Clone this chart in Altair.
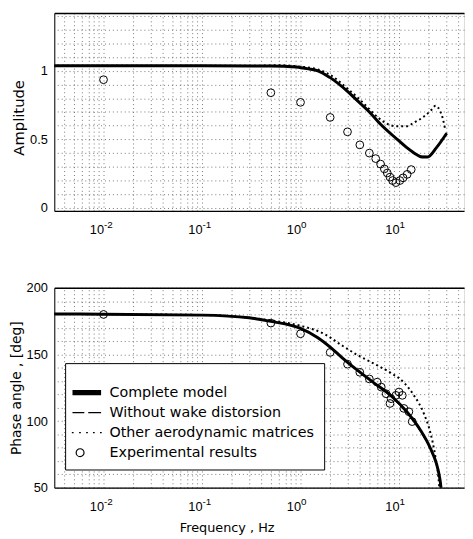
import altair as alt
import pandas as pd

# ---------------- data ----------------
# Amplitude panel
amp_model_f = [0.003, 0.01, 0.1, 0.5, 0.9, 1.2, 1.5, 2.0, 3.0, 4.0, 5.0, 6.5, 9.6, 12, 15, 17, 19.5, 24, 30.5]
amp_model_v = [1.036, 1.036, 1.036, 1.035, 1.027, 1.014, 1.0, 0.95, 0.85, 0.765, 0.70, 0.61, 0.50, 0.44, 0.39, 0.372, 0.372, 0.44, 0.545]

amp_nowake_f = [0.003, 0.01, 0.1, 0.5, 0.9, 1.2, 1.5, 2.0, 3.0, 4.0, 5.0, 6.5, 9.6, 12, 15, 17, 19.5, 24, 30.5]
amp_nowake_v = [1.036, 1.036, 1.036, 1.036, 1.028, 1.016, 1.002, 0.955, 0.855, 0.77, 0.705, 0.615, 0.505, 0.445, 0.395, 0.378, 0.376, 0.445, 0.55]

amp_other_f = [0.003, 0.3, 0.6, 1.0, 1.5, 2.0, 3.0, 4.0, 5.0, 6.0, 7.5, 9.6, 12, 14, 17.8, 21, 23.5, 26, 28, 29.3]
amp_other_v = [1.036, 1.036, 1.04, 1.03, 1.01, 0.97, 0.87, 0.79, 0.72, 0.665, 0.615, 0.595, 0.595, 0.62, 0.665, 0.71, 0.745, 0.71, 0.645, 0.58]

amp_exp_f = [0.01, 0.5, 1.0, 2.0, 3.0, 4.0, 5.0, 5.8, 6.5, 7.1, 7.6, 8.1, 8.6, 9.3, 10.2, 11.0, 12.1, 13.3]
amp_exp_v = [0.935, 0.84, 0.77, 0.66, 0.555, 0.46, 0.40, 0.36, 0.32, 0.285, 0.255, 0.225, 0.20, 0.185, 0.20, 0.22, 0.245, 0.28]

# Phase panel
ph_model_f = [0.003, 0.01, 0.1, 0.3, 0.5, 1.0, 1.5, 2.0, 2.6, 3.8, 5.6, 8.3, 12, 16.4, 20.7, 24, 25.5, 26.5, 27]
ph_model_v = [180.3, 180.2, 179.5, 177.5, 174.8, 169.5, 162.5, 155.5, 148, 138, 128.5, 119, 107, 93.5, 80, 68, 60, 52, 45]

ph_nowake_f = [0.003, 0.01, 0.1, 0.3, 0.5, 1.0, 1.5, 2.0, 2.6, 3.8, 5.6, 8.3, 12, 16.4, 20.7, 24, 25.5, 26.5, 27]
ph_nowake_v = [180.3, 180.2, 179.5, 177.5, 174.8, 169.5, 162.5, 155.5, 148, 138, 128.5, 118, 106, 92.5, 79, 67, 59, 51, 44]

ph_other_f = [0.003, 0.1, 0.5, 1.0, 1.78, 2.6, 3.8, 5.6, 8.3, 11.2, 14.1, 17.8, 20.7, 23.2, 25.1, 25.8]
ph_other_v = [180.3, 179.6, 175.5, 171.5, 165, 157, 149.5, 143, 136, 129, 119.5, 106, 92, 75, 58, 48]

ph_exp_f = [0.01, 0.5, 1.0, 2.0, 3.0, 4.0, 5.0, 6.0, 6.6, 7.4, 8.1, 8.3, 9.3, 10.0, 10.8, 11.2, 12.6, 13.6]
ph_exp_v = [180, 173.5, 165.5, 151.5, 142.7, 136.6, 131.6, 129.2, 125.5, 120.5, 113.2, 116.8, 119.3, 121.8, 119.3, 109.5, 107, 99.6]

legend_labels = ["Complete model", "Without wake distorsion",
                 "Other aerodynamic matrices", "Experimental results"]

major_ticks = [0.01, 0.1, 1, 10]
amp_ticks = [0, 0.5, 1]
ph_ticks = [50, 100, 150, 200]

# ---------------- layout / style ----------------
W = 416
DEC = 100.0
x_lo = 10 ** -2.5
x_hi = 10 ** (-2.5 + W / DEC)
x_grid = [m * 10 ** k for k in range(-3, 3) for m in range(1, 10)
          if x_lo <= m * 10 ** k <= x_hi]
amp_grid = [round(0.1 * i, 1) for i in range(0, 15)]
ph_grid = list(range(50, 201, 10))

TOP_H = 201
BOT_H = 203
GAP = 78

FONT = "DejaVu Sans"

# legend symbol paths (unit = sqrt(symbolSize)/2 px)
legend_paths = [
    "M-1.44,-0.25H2.19M-1.44,-0.125H2.19M-1.44,0H2.19M-1.44,0.125H2.19M-1.44,0.25H2.19",
    "M-1.44,0H0.06M0.56,0H2.19",
    "M-1.52,0H-1.3M-0.6,0H-0.38M0.29,0H0.51M1.16,0H1.38M2.05,0H2.27",
    "M-0.975,0A0.5,0.5 0 1,1 0.025,0A0.5,0.5 0 1,1 -0.975,0Z",
]


def df(f, v):
    return pd.DataFrame({"f": f, "v": v})


def panel(model, nowake, other, exp, ydom, yvals, yfmt, ygrid, ytitle,
          ytitle_size, H, bottom, title_y):
    xs = alt.Scale(type="log", domain=[x_lo, x_hi], nice=False)
    ys = alt.Scale(domain=ydom, nice=False, zero=False)

    x_main_kw = dict(orient="bottom", values=major_ticks, labelExpr="'10'",
                     labelAlign="right", labelPadding=13, labelFontSize=13,
                     grid=False, ticks=False, tickSize=0, domain=True,
                     domainColor="black", domainWidth=1.2,
                     labelOverlap=False, labelFlush=False, labelColor="black")
    if bottom:
        x_main = alt.Axis(title="Frequency , Hz", titleFontSize=13,
                          titlePadding=8, titleX=175, titleFont=FONT,
                          titleFontWeight="normal", titleColor="black",
                          **x_main_kw)
    else:
        x_main = alt.Axis(title=None, **x_main_kw)

    x_sup = alt.Axis(orient="bottom", values=major_ticks, title=None,
                     labelExpr="'' + round(log(datum.value) / LN10)",
                     labelAlign="left", labelPadding=9,
                     labelFontSize=10, grid=False, ticks=False, tickSize=0,
                     domain=False, labelOverlap=False, labelFlush=False,
                     labelColor="black")
    x_gridax = alt.Axis(orient="top", values=x_grid, title=None, labels=False,
                        ticks=False, tickSize=0, domain=True,
                        domainColor="black", domainWidth=1.5, grid=True,
                        gridColor="#555", gridDash=[1, 3], gridWidth=1,
                        gridOpacity=0.8)

    y_main = alt.Axis(orient="left", values=yvals, format=yfmt,
                      title=ytitle, titleFontSize=ytitle_size, titlePadding=3,
                      titleY=title_y, titleFont=FONT,
                      titleFontWeight="normal", titleColor="black",
                      labelPadding=7, labelFontSize=13, grid=False,
                      ticks=False, tickSize=0, domain=True,
                      domainColor="black", domainWidth=1,
                      labelColor="black")
    y_gridax = alt.Axis(orient="right", values=ygrid, title=None,
                        labels=False, ticks=False, tickSize=0, domain=False,
                        grid=True, gridColor="#555", gridDash=[1, 3],
                        gridWidth=1, gridOpacity=0.8)

    dotted = alt.Chart(df(*other)).mark_line(
        color="black", strokeWidth=2, strokeDash=[2, 3], clip=True,
        interpolate="monotone").encode(
        x=alt.X("f:Q", scale=xs, axis=x_sup),
        y=alt.Y("v:Q", scale=ys, axis=None))
    dashed = alt.Chart(df(*nowake)).mark_line(
        color="black", strokeWidth=1, strokeDash=[7, 4], clip=True,
        interpolate="monotone").encode(
        x=alt.X("f:Q", scale=xs, axis=x_gridax),
        y=alt.Y("v:Q", scale=ys, axis=y_gridax))
    circles = alt.Chart(df(*exp)).mark_point(
        shape="circle", filled=False, color="black", size=62,
        strokeWidth=1, opacity=1, clip=True).encode(
        x=alt.X("f:Q", scale=xs, axis=None),
        y=alt.Y("v:Q", scale=ys, axis=None))
    solid = alt.Chart(df(*model)).mark_line(
        color="black", strokeWidth=3, clip=True,
        interpolate="monotone").encode(
        x=alt.X("f:Q", scale=xs, axis=x_main),
        y=alt.Y("v:Q", scale=ys, axis=y_main))

    layers = [dotted, dashed, circles, solid]
    if bottom:
        # legend coordinates are relative to the top panel's plot origin
        leg = alt.Chart(pd.DataFrame({"series": legend_labels})).transform_filter(
            "false").mark_point(filled=False, color="black",
                                strokeWidth=1.2, opacity=1).encode(
            shape=alt.Shape(
                "series:N",
                scale=alt.Scale(domain=legend_labels, range=legend_paths),
                legend=alt.Legend(
                    orient="none", legendX=11,
                    legendY=TOP_H + GAP + 76.5, title=" ",
                    titleFontSize=6, titlePadding=5, padding=10,
                    fillColor="white", strokeColor="black",
                    symbolSize=256, symbolStrokeWidth=1.2,
                    symbolStrokeColor="black", symbolOffset=0,
                    labelFont=FONT, labelFontSize=14.5, labelOffset=17,
                    labelColor="black", labelLimit=400, rowPadding=4.3)))
        layers.append(leg)

    return alt.layer(*layers).resolve_axis(
        x="independent", y="independent").properties(width=W, height=H)


top = panel((amp_model_f, amp_model_v), (amp_nowake_f, amp_nowake_v),
            (amp_other_f, amp_other_v), (amp_exp_f, amp_exp_v),
            [-0.0215, 1.421], amp_ticks, "~g", amp_grid, "Amplitude", 15,
            TOP_H, False, 106)
bot = panel((ph_model_f, ph_model_v), (ph_nowake_f, ph_nowake_v),
            (ph_other_f, ph_other_v), (ph_exp_f, ph_exp_v),
            [50, 200], ph_ticks, "d", ph_grid, "Phase angle , [deg]", 14,
            BOT_H, True, 101.5)

chart = alt.vconcat(top, bot, spacing=GAP, bounds="flush", padding=0).configure_view(
    stroke=None).configure_axis(labelFont=FONT, titleFont=FONT).configure(
    background="white")

chart.save("out.html", embed_options={"renderer": "svg", "actions": False})
